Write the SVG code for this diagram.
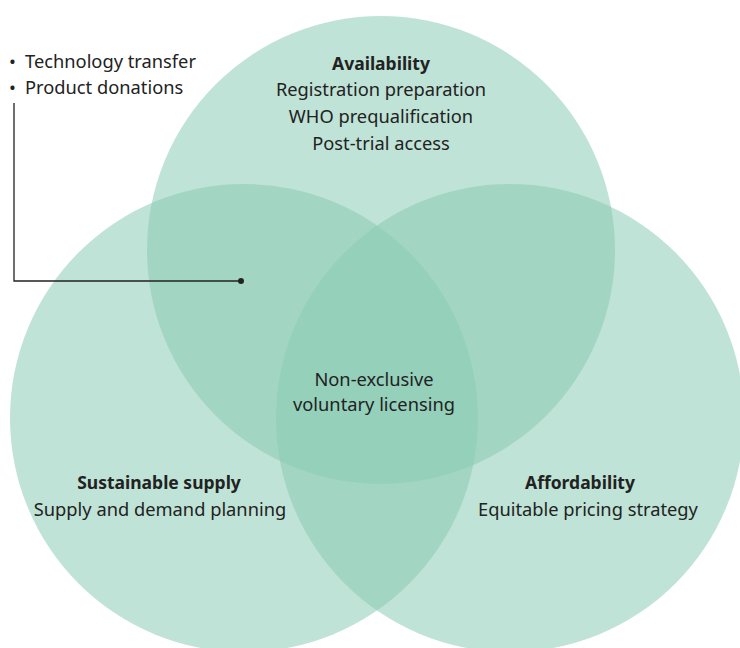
<svg xmlns="http://www.w3.org/2000/svg" width="740" height="648" viewBox="0 0 740 648">
<style>
.c{fill:rgb(139,204,181);fill-opacity:0.55}
.t{font-family:"Noto Sans","Open Sans",sans-serif;font-size:18.3px;fill:#222;text-anchor:middle}
.b{font-weight:bold;font-size:17.5px}
.l{text-anchor:start}
</style>
<rect width="740" height="648" fill="#fff"/>
<g id="availability">
<circle class="c" cx="381" cy="250" r="234"/>
<text class="t b" x="381" y="70">Availability</text>
<text class="t" x="381" y="96">Registration preparation</text>
<text class="t" x="381" y="123">WHO prequalification</text>
<text class="t" x="381" y="150">Post-trial access</text>
</g>
<g id="sustainable-supply">
<circle class="c" cx="244" cy="418" r="234"/>
<text class="t b" x="159" y="489">Sustainable supply</text>
<text class="t" x="160" y="516">Supply and demand planning</text>
</g>
<g id="affordability">
<circle class="c" cx="510" cy="418" r="234"/>
<text class="t b" x="580" y="489">Affordability</text>
<text class="t" x="588" y="516">Equitable pricing strategy</text>
</g>
<g id="center">
<text class="t" x="374" y="386">Non-exclusive</text>
<text class="t" x="374" y="411">voluntary licensing</text>
</g>
<g id="annotation">
<text class="t l" x="9" y="68">•</text>
<text class="t l" x="25" y="68">Technology transfer</text>
<text class="t l" x="9" y="94">•</text>
<text class="t l" x="25" y="94">Product donations</text>
</g>
<g id="connectors">
<polyline points="14,103 14,281 241,281" fill="none" stroke="#222" stroke-width="1.3"/>
<circle cx="241" cy="281" r="3" fill="#222"/>
</g>
</svg>
